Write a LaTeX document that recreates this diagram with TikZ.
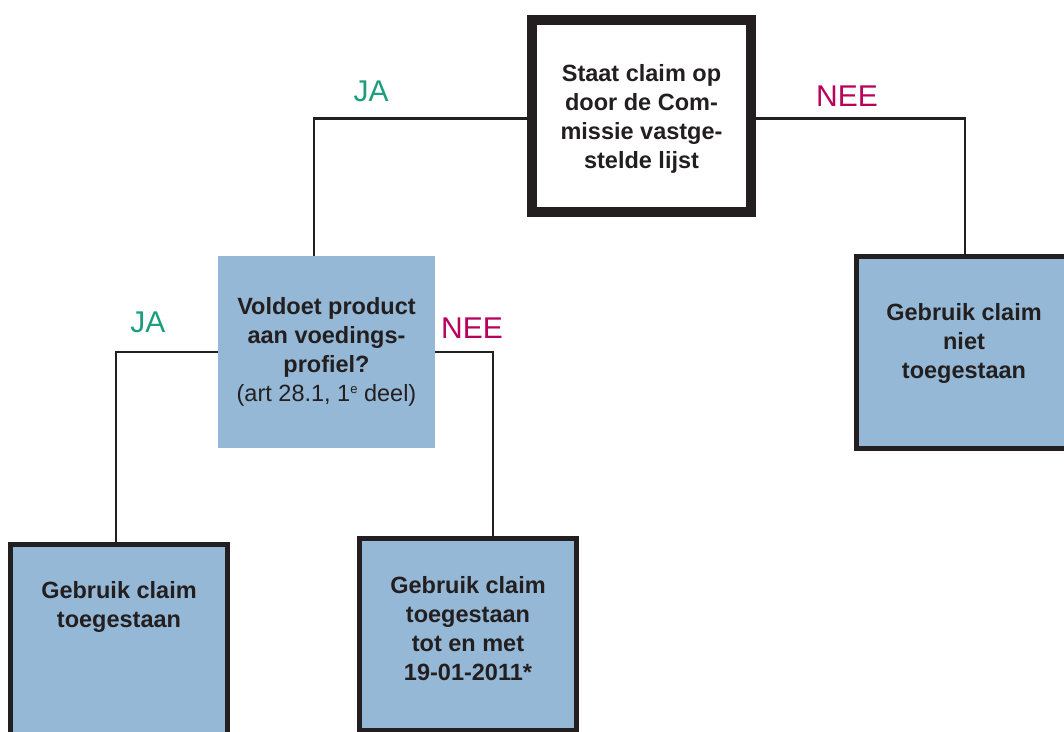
\documentclass[tikz,border=0pt]{standalone}
\usepackage{fontspec}
\setmainfont{Liberation Sans}
\definecolor{vakblauw}{HTML}{94B8D5}
\definecolor{jagroen}{HTML}{1B9E7E}
\definecolor{neerood}{HTML}{B8005C}
\definecolor{inkt}{HTML}{231F20}
\begin{document}
\begin{tikzpicture}[x=1pt,y=-1pt,
  vraag/.style={draw=inkt, line width=10pt, fill=white, minimum width=219pt, minimum height=192pt, align=center, font=\fontsize{23.5}{29}\selectfont\bfseries, text=inkt},
  toets/.style={fill=vakblauw, minimum width=217pt, minimum height=192pt, align=center, font=\fontsize{23.5}{29}\selectfont, text=inkt},
  uitkomst/.style={draw=inkt, line width=5pt, fill=vakblauw, minimum width=217pt, minimum height=192pt},
  tekst/.style={align=center, font=\fontsize{23.5}{29}\selectfont\bfseries, text=inkt},
  lijn/.style={draw=inkt, line width=2.5pt},
  ja/.style={text=jagroen, font=\fontsize{30}{36}\selectfont},
  nee/.style={text=neerood, font=\fontsize{30}{36}\selectfont}]
\useasboundingbox (0,0) rectangle (1064,731);

\node[vraag] (claim) at (641.5,116) {\\[-6pt]Staat claim op\\door de Com-\\missie vastge-\\stelde lijst};
\node[toets] (voldoet) at (326.5,352) {\textbf{Voldoet product}\\\textbf{aan voedings-}\\\textbf{profiel?}\\(art 28.1, 1\raisebox{8pt}{\fontsize{13}{13}\selectfont e} deel)};
\node[uitkomst] (niet) at (965,352.5) {};
\node[tekst] (niettxt) at (964,343) {Gebruik claim\\niet\\toegestaan};
\node[uitkomst] (toeg) at (119,640.5) {};
\node[tekst] (toegtxt) at (119,607) {Gebruik claim\\toegestaan};
\node[uitkomst] (tot) at (468,634) {};
\node[tekst] (tottxt) at (468,628.5) {Gebruik claim\\toegestaan\\tot en met\\19-01-2011*};

\node[ja] (ja1) at (371,91) {JA};
\node[nee] (nee1) at (847,96) {NEE};
\node[ja] (ja2) at (148,322) {JA};
\node[nee] (nee2) at (472,328) {NEE};

\draw[lijn] ([yshift=-2.5pt]claim.west) -| ([xshift=-12.5pt]voldoet.north);
\draw[lijn] ([yshift=-2.5pt]claim.east) -| (niet.north);
\draw[lijn] (voldoet.west) -| ([xshift=-3pt]toeg.north);
\draw[lijn] (voldoet.east) -| ([xshift=25pt]tot.north);

\end{tikzpicture}
\end{document}
